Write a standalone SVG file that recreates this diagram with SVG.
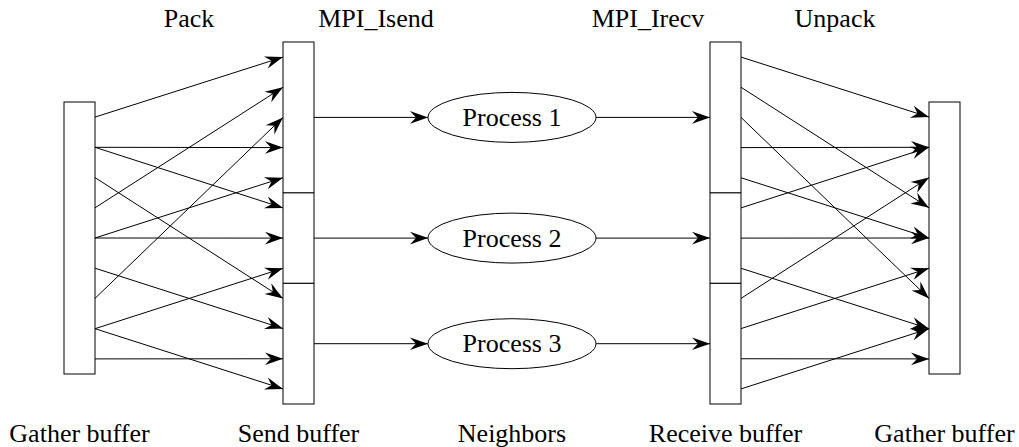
<svg xmlns="http://www.w3.org/2000/svg" width="1019" height="447" viewBox="0 0 1019 447">
<style>
.box{fill:#fff;stroke:#000;stroke-width:1}
.div{stroke:#000;stroke-width:1.2}
.ell{fill:#fff;stroke:#000;stroke-width:1}
.e{stroke:#000;stroke-width:1;fill:none;marker-end:url(#ah)}
text{font-family:"Liberation Serif","Times New Roman",serif;font-size:26px;fill:#000;text-anchor:middle}
</style>
<defs>
<marker id="ah" viewBox="-20 -8 22 16" markerWidth="22" markerHeight="16" refX="0" refY="0" orient="auto" markerUnits="userSpaceOnUse">
<path d="M0,0 L-18,-6.3 L-12,0 L-18,6.3 Z" fill="#000"/>
</marker>
</defs>
<rect width="1019" height="447" fill="#fff"/>
<g id="connectors">
<line class="e" x1="95" y1="117.1" x2="283" y2="57.1"/>
<line class="e" x1="95" y1="147.3" x2="283" y2="147.6"/>
<line class="e" x1="95" y1="147.3" x2="283" y2="207.9"/>
<line class="e" x1="95" y1="177.6" x2="283" y2="298.4"/>
<line class="e" x1="95" y1="207.8" x2="283" y2="87.25"/>
<line class="e" x1="95" y1="238" x2="283" y2="177.75"/>
<line class="e" x1="95" y1="238" x2="283" y2="238.1"/>
<line class="e" x1="95" y1="268.2" x2="283" y2="328.6"/>
<line class="e" x1="95" y1="298.4" x2="283" y2="117.4"/>
<line class="e" x1="95" y1="328.7" x2="283" y2="268.25"/>
<line class="e" x1="95" y1="328.7" x2="283" y2="388.9"/>
<line class="e" x1="95" y1="358.9" x2="283" y2="358.75"/>
<line class="e" x1="314" y1="117.4" x2="428" y2="117.4"/>
<line class="e" x1="314" y1="238.1" x2="428" y2="238.1"/>
<line class="e" x1="314" y1="343.7" x2="428" y2="343.7"/>
<line class="e" x1="596" y1="117.4" x2="710" y2="117.4"/>
<line class="e" x1="596" y1="238.1" x2="710" y2="238.1"/>
<line class="e" x1="596" y1="343.7" x2="710" y2="343.7"/>
<line class="e" x1="741" y1="57.1" x2="929" y2="117.1"/>
<line class="e" x1="741" y1="87.25" x2="929" y2="207.8"/>
<line class="e" x1="741" y1="117.4" x2="929" y2="298.4"/>
<line class="e" x1="741" y1="147.6" x2="929" y2="147.3"/>
<line class="e" x1="741" y1="177.75" x2="929" y2="238"/>
<line class="e" x1="741" y1="207.9" x2="929" y2="147.3"/>
<line class="e" x1="741" y1="238.1" x2="929" y2="238"/>
<line class="e" x1="741" y1="268.25" x2="929" y2="328.7"/>
<line class="e" x1="741" y1="298.4" x2="929" y2="177.6"/>
<line class="e" x1="741" y1="328.6" x2="929" y2="268.2"/>
<line class="e" x1="741" y1="358.75" x2="929" y2="358.9"/>
<line class="e" x1="741" y1="388.9" x2="929" y2="328.7"/>
</g>
<g id="gather-left">
<rect class="box" x="64" y="102" width="31" height="272"/>
</g>
<g id="send-buffer">
<rect class="box" x="283" y="42" width="31" height="362"/>
<line class="div" x1="283" y1="192.8" x2="314" y2="192.8"/>
<line class="div" x1="283" y1="283.3" x2="314" y2="283.3"/>
</g>
<g id="process1">
<ellipse class="ell" cx="512" cy="117.4" rx="84" ry="25"/>
<text x="512" y="126">Process 1</text>
</g>
<g id="process2">
<ellipse class="ell" cx="512" cy="238.1" rx="84" ry="25"/>
<text x="512" y="246.7">Process 2</text>
</g>
<g id="process3">
<ellipse class="ell" cx="512" cy="343.7" rx="84" ry="25"/>
<text x="512" y="352.3">Process 3</text>
</g>
<g id="receive-buffer">
<rect class="box" x="710" y="42" width="31" height="362"/>
<line class="div" x1="710" y1="192.8" x2="741" y2="192.8"/>
<line class="div" x1="710" y1="283.3" x2="741" y2="283.3"/>
</g>
<g id="gather-right">
<rect class="box" x="929" y="102" width="31" height="272"/>
</g>
<g id="labels">
<text x="189" y="27">Pack</text>
<text x="376" y="27">MPI_Isend</text>
<text x="648" y="27">MPI_Irecv</text>
<text x="835" y="27">Unpack</text>
<text x="79.5" y="442">Gather buffer</text>
<text x="298.5" y="442">Send buffer</text>
<text x="512" y="442">Neighbors</text>
<text x="725.5" y="442">Receive buffer</text>
<text x="944.5" y="442">Gather buffer</text>
</g>
</svg>
